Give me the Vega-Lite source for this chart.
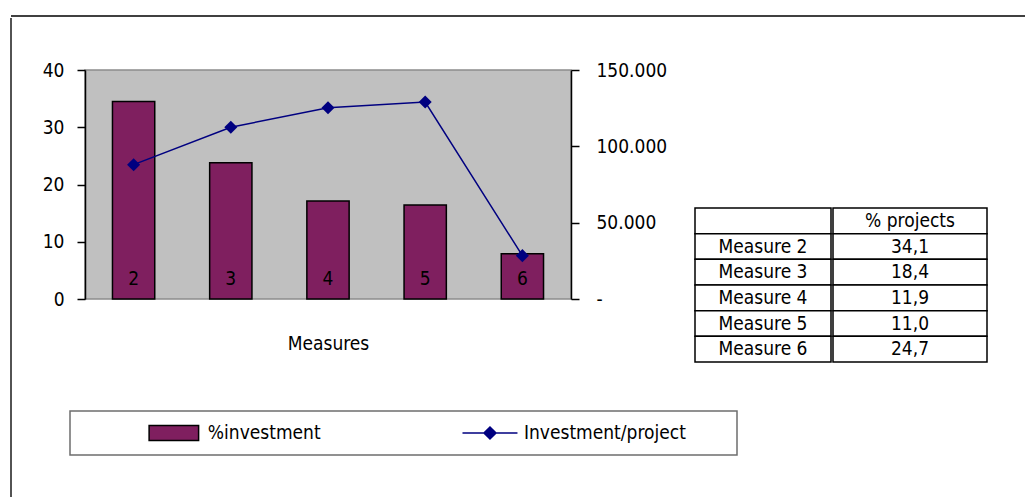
{
  "$schema": "https://vega.github.io/schema/vega-lite/v6.json",
  "background": "white",
  "padding": {"left": 10, "top": 15, "right": 0, "bottom": 0},
  "autosize": {"type": "pad"},
  "config": {
    "locale": {"number": {"decimal": ",", "thousands": ".", "grouping": [3], "currency": ["", ""]}},
    "font": "DejaVu Sans Condensed, Roboto, sans-serif",
    "view": {"stroke": null},
    "axis": {
      "labelFont": "DejaVu Sans Condensed, Roboto, sans-serif",
      "labelFontSize": 19,
      "labelColor": "#000",
      "titleFont": "DejaVu Sans Condensed, Roboto, sans-serif",
      "titleFontSize": 19,
      "titleFontWeight": "normal",
      "titleColor": "#000",
      "domainColor": "#000",
      "domainWidth": 1.5,
      "tickColor": "#000",
      "tickWidth": 1.5,
      "grid": false
    },
    "text": {"font": "DejaVu Sans Condensed, Roboto, sans-serif", "fontSize": 19, "fill": "#000"}
  },
  "datasets": {
    "measures": [
      {"measure": "2", "investment_pct": 34.5, "investment_per_project": 88000},
      {"measure": "3", "investment_pct": 23.8, "investment_per_project": 112500},
      {"measure": "4", "investment_pct": 17.1, "investment_per_project": 125300},
      {"measure": "5", "investment_pct": 16.4, "investment_per_project": 129000},
      {"measure": "6", "investment_pct": 7.9, "investment_per_project": 28400}
    ],
    "projects": [
      {"row": "head", "name": "", "head": "% projects"},
      {"row": "2", "name": "Measure 2", "share": 34.1},
      {"row": "3", "name": "Measure 3", "share": 18.4},
      {"row": "4", "name": "Measure 4", "share": 11.9},
      {"row": "5", "name": "Measure 5", "share": 11.0},
      {"row": "6", "name": "Measure 6", "share": 24.7}
    ],
    "series": [
      {"series": "%investment"},
      {"series": "Investment/project"}
    ]
  },
  "spacing": 0,
  "vconcat": [
    {
      "width": 1015,
      "height": 1,
      "data": {"values": [{}]},
      "mark": {"type": "rule", "stroke": "#404040", "strokeWidth": 2},
      "encoding": {"y": {"value": 0}}
    },
    {
      "spacing": 28,
      "hconcat": [
        {
          "width": 1,
          "height": 482,
          "data": {"values": [{}]},
          "mark": {"type": "rule", "stroke": "#1a1a1a", "strokeWidth": 1.5},
          "encoding": {"x": {"value": 0}}
        },
        {
          "spacing": 0,
          "vconcat": [
            {"width": 1, "height": 42, "data": {"values": []}, "mark": "point"},
            {
              "spacing": 0,
              "hconcat": [
                {"width": 1, "height": 1, "data": {"values": []}, "mark": "point"},
                {
                  "spacing": 26,
                  "hconcat": [
                    {
                      "width": 486,
                      "height": 229,
                      "view": {"fill": "#c0c0c0", "stroke": "#8c8c8c", "strokeWidth": 1.5},
                      "data": {"name": "measures"},
                      "encoding": {
                        "x": {
                          "field": "measure",
                          "type": "nominal",
                          "scale": {"paddingInner": 0.565, "paddingOuter": 0.2826},
                          "axis": {"title": "Measures", "labels": false, "ticks": false, "domain": false, "titlePadding": 35}
                        }
                      },
                      "layer": [
                        {
                          "layer": [
                            {
                              "mark": {"type": "bar", "fill": "#7f1f5f", "stroke": "#000", "strokeWidth": 1.5},
                              "encoding": {
                                "y": {
                                  "field": "investment_pct",
                                  "type": "quantitative",
                                  "scale": {"domain": [0, 40], "nice": false},
                                  "axis": {"title": null, "values": [0, 10, 20, 30, 40], "tickSize": 8, "labelPadding": 13}
                                }
                              }
                            },
                            {
                              "mark": {"type": "text", "baseline": "middle", "dy": -20},
                              "encoding": {
                                "y": {"datum": 0, "type": "quantitative"},
                                "text": {"field": "measure"}
                              }
                            }
                          ]
                        },
                        {
                          "layer": [
                            {
                              "mark": {"type": "line", "stroke": "#000080", "strokeWidth": 1.5},
                              "encoding": {
                                "y": {
                                  "field": "investment_per_project",
                                  "type": "quantitative",
                                  "scale": {"domain": [0, 150000], "nice": false},
                                  "axis": {
                                    "orient": "right",
                                    "title": null,
                                    "values": [0, 50000, 100000, 150000],
                                    "format": ",d",
                                    "labelExpr": "datum.value === 0 ? '-' : datum.label",
                                    "tickSize": 8,
                                    "labelPadding": 17
                                  }
                                }
                              }
                            },
                            {
                              "mark": {"type": "point", "shape": "diamond", "filled": true, "fill": "#000080", "opacity": 1, "size": 170},
                              "encoding": {
                                "y": {"field": "investment_per_project", "type": "quantitative"}
                              }
                            }
                          ]
                        }
                      ],
                      "resolve": {"scale": {"y": "independent"}}
                    },
                    {
                      "spacing": 0,
                      "vconcat": [
                        {"width": 1, "height": 137, "data": {"values": []}, "mark": "point"},
                        {
                          "spacing": 0,
                          "hconcat": [
                            {
                              "width": 136,
                              "height": 154,
                              "data": {"name": "projects"},
                              "encoding": {
                                "y": {"field": "row", "type": "nominal", "sort": null, "scale": {"paddingInner": 0, "paddingOuter": 0}, "axis": null}
                              },
                              "layer": [
                                {"mark": {"type": "rect", "fill": "white", "stroke": "#000", "strokeWidth": 1.5}},
                                {"mark": {"type": "text", "baseline": "middle"}, "encoding": {"text": {"field": "name"}}}
                              ]
                            },
                            {
                              "width": 154,
                              "height": 154,
                              "data": {"name": "projects"},
                              "encoding": {
                                "y": {"field": "row", "type": "nominal", "sort": null, "scale": {"paddingInner": 0, "paddingOuter": 0}, "axis": null}
                              },
                              "layer": [
                                {"mark": {"type": "rect", "fill": "white", "stroke": "#000", "strokeWidth": 1.5}},
                                {
                                  "transform": [{"filter": "isValid(datum.head)"}],
                                  "mark": {"type": "text", "baseline": "middle"},
                                  "encoding": {"text": {"field": "head"}}
                                },
                                {
                                  "transform": [{"filter": "isValid(datum.share)"}],
                                  "mark": {"type": "text", "baseline": "middle"},
                                  "encoding": {"text": {"field": "share", "type": "quantitative", "format": ".1f"}}
                                }
                              ]
                            }
                          ]
                        }
                      ]
                    }
                  ]
                }
              ]
            },
            {"width": 1, "height": 47, "data": {"values": []}, "mark": "point"},
            {
              "spacing": 28,
              "hconcat": [
                {"width": 1, "height": 1, "data": {"values": []}, "mark": "point"},
                {
                  "width": 667,
                  "height": 44,
                  "view": {"fill": "white", "stroke": "#6e6e6e", "strokeWidth": 1.5},
                  "data": {"name": "series"},
                  "encoding": {
                    "x": {"field": "series", "type": "nominal", "sort": null, "scale": {"type": "point", "padding": 0.555, "align": 0.296}, "axis": null}
                  },
                  "layer": [
                    {
                      "mark": {"type": "point", "filled": true, "opacity": 1, "size": 3025, "strokeWidth": 1.5},
                      "encoding": {
                        "shape": {"field": "series", "type": "nominal", "scale": {"range": ["M-0.9,-0.27H0.9V0.27H-0.9Z", "M-1,0H1M0,-0.22L0.22,0L0,0.22L-0.22,0Z"]}, "legend": null},
                        "fill": {"field": "series", "type": "nominal", "scale": {"range": ["#7f1f5f", "#000080"]}, "legend": null},
                        "stroke": {"field": "series", "type": "nominal", "scale": {"range": ["#000", "#000080"]}, "legend": null}
                      }
                    },
                    {
                      "mark": {"type": "text", "align": "left", "baseline": "middle", "dx": 34},
                      "encoding": {"text": {"field": "series"}}
                    }
                  ]
                }
              ]
            }
          ]
        }
      ]
    }
  ]
}
